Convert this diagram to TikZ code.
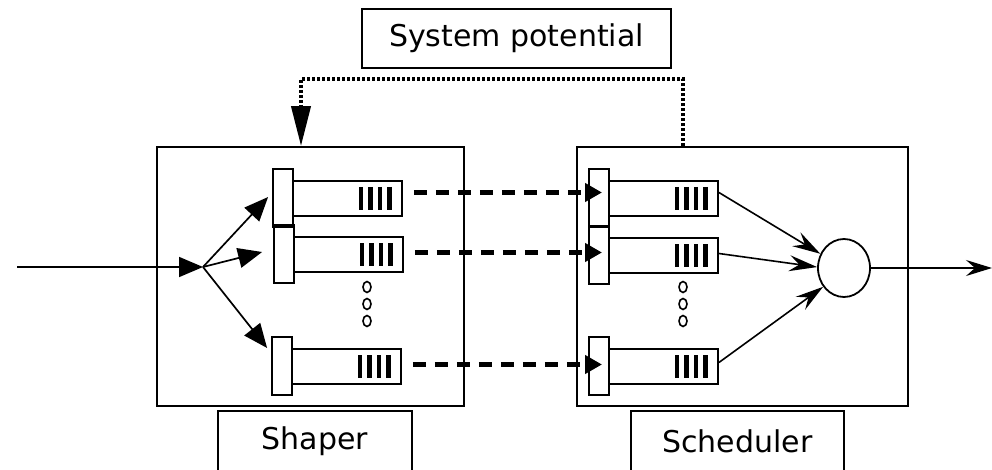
\documentclass[tikz,border=0pt]{standalone}
\usepackage{fontspec}
\setmainfont{DejaVu Sans}
\usetikzlibrary{arrows.meta,shapes.geometric}

\tikzset{
  unitbox/.style={draw, line width=1.8pt, inner sep=0pt},
  tagbox/.style={unitbox, font=\fontsize{30}{35}\selectfont},
  slot/.style={unitbox, minimum width=20pt, minimum height=58pt},
  buffer/.style={unitbox, minimum width=109pt, minimum height=35pt},
  feed/.style={line width=1.7pt, -{Triangle[length=24pt,width=20pt]}},
  link/.style={line width=4.5pt, dash pattern=on 13pt off 9pt, -{Triangle[length=17pt,width=18pt]}},
  serve/.style={line width=1.6pt, -{Stealth[length=28pt,width=16pt,inset=10pt]}},
  feedback/.style={line width=4pt, dash pattern=on 3pt off 2pt, -{Triangle[length=40pt,width=19pt]}},
  queue/.pic={
    \node[slot] (-front) at (10,29) {};
    \node[buffer] (-body) at (74.5,29.5) {};
    \foreach \x in {88,97.5,107,116.5}
      \draw[line width=4.5pt] (\x,18) -- (\x,41);
  }
}

\begin{document}
\begin{tikzpicture}[x=1pt, y=-1pt]
\useasboundingbox (0,0) rectangle (992,470);

% shaper and scheduler
\node[unitbox, minimum width=307pt, minimum height=259pt] (shaper) at (310.5,276.5) {};
\node[unitbox, minimum width=331pt, minimum height=259pt] (sched) at (742.5,276.5) {};

\node[tagbox, minimum width=309pt, minimum height=59pt] (sysp) at (516.5,38.5) {System potential};
\node[tagbox, minimum width=194pt, minimum height=61pt] (shtag) at (315,441.5) {Shaper};
\node[tagbox, minimum width=213pt, minimum height=61pt] (sctag) at (737.5,441.5) {Scheduler};

% queues
\pic (sq1) at (273,169) {queue};
\pic (sq2) at (274,225) {queue};
\pic (sq3) at (272,337) {queue};
\pic (tq1) at (589,169) {queue};
\pic (tq2) at (589,226) {queue};
\pic (tq3) at (589,337) {queue};

\foreach \y in {287,304,321} {
  \draw[line width=1.6pt] (367,\y) ellipse [x radius=4, y radius=5.5];
  \draw[line width=1.6pt] (683,\y) ellipse [x radius=4, y radius=5.5];
}

% input and split
\coordinate (in) at (17,267);
\coordinate (fork) at (203,267);
\draw[feed] (in) -- (fork);
\draw[feed] (fork) -- ([xshift=-4pt,yshift=1pt]sq1-front.west);
\draw[feed] (fork) -- ([xshift=-11pt,yshift=2pt]sq2-front.west);
\draw[feed] (fork) -- ([xshift=-4pt,yshift=18pt]sq3-front.west);

% shaper to scheduler
\foreach \q/\d in {1/6pt,2/2pt,3/2pt}
  \draw[link] ([shift={(11pt,\d)}]sq\q-body.east) -- ([shift={(3pt,\d)}]sq\q-body.east -| tq\q-front.center);

% server
\node[draw, ellipse, line width=1.8pt, minimum width=52pt, minimum height=58pt, inner sep=0pt] (srv) at (844,268) {};
\draw[serve] ([yshift=6pt]tq1-body.east) -- (srv.149);
\draw[serve] ([yshift=2pt]tq2-body.east) -- (srv.178);
\draw[serve] ([yshift=4pt]tq3-body.east) -- (srv.222);
\coordinate (out) at (992,268);
\draw[line width=1.6pt, -{Stealth[length=26pt,width=16pt,inset=9pt]}] (srv.east) -- (out);

% system potential feedback
\coordinate (fb) at (683,79);
\draw[feedback] (fb |- sched.north) -- (fb) -| ([xshift=-9.5pt]shaper.north);
\end{tikzpicture}
\end{document}
